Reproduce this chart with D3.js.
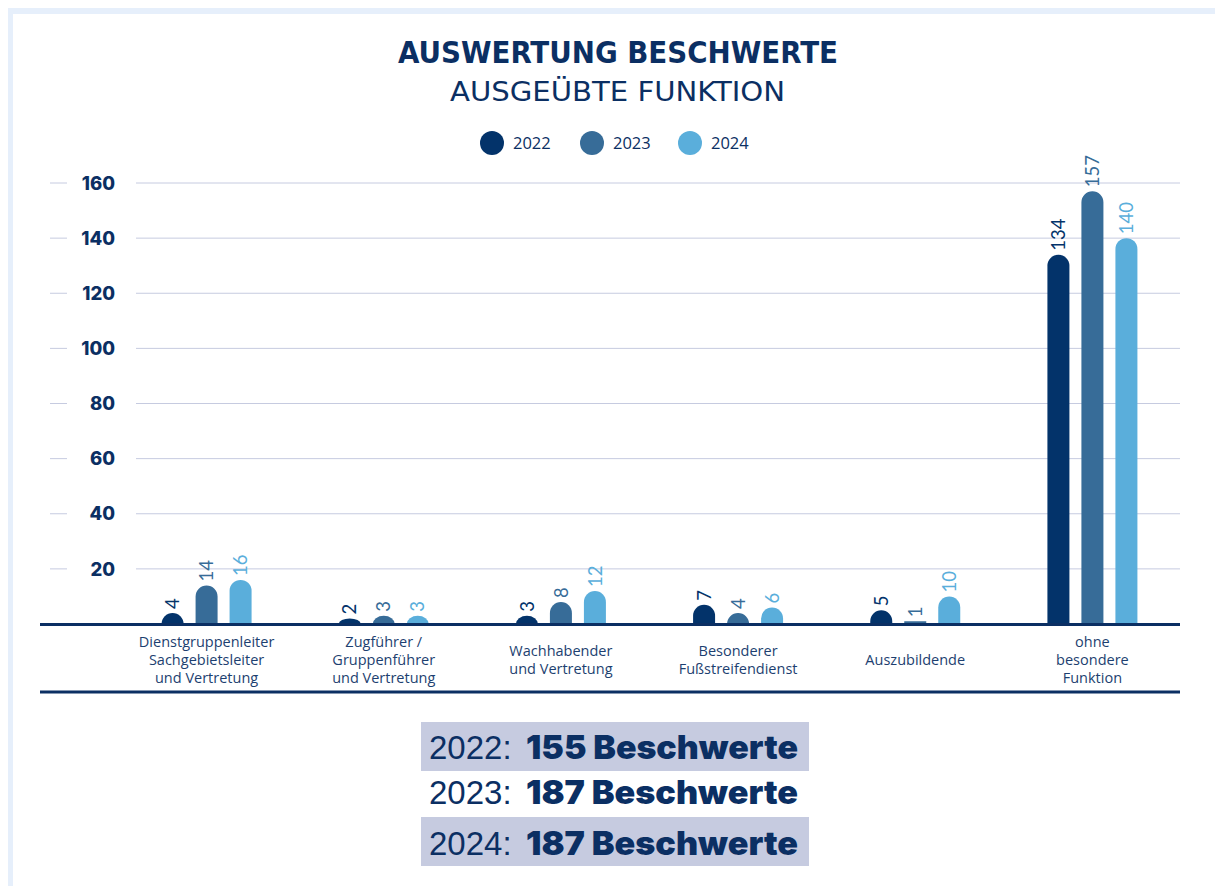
<!DOCTYPE html>
<html><head><meta charset="utf-8">
<script src="https://cdn.jsdelivr.net/npm/d3@7"></script>
<style>
html,body{margin:0;padding:0;background:#fff;}
svg{display:block;}
</style></head>
<body>
<svg id="chart" width="1215" height="886"></svg>
<script>
const categories = [
  ["Dienstgruppenleiter","Sachgebietsleiter","und Vertretung"],
  ["Zugführer /","Gruppenführer","und Vertretung"],
  ["Wachhabender","und Vertretung"],
  ["Besonderer","Fußstreifendienst"],
  ["Auszubildende"],
  ["ohne","besondere","Funktion"]
];
const years = ["2022","2023","2024"];
const values2022 = [4, 2, 3, 7, 5, 134];
const values2023 = [14, 3, 8, 4, 1, 157];
const values2024 = [16, 3, 12, 6, 10, 140];
const yTicks = [20, 40, 60, 80, 100, 120, 140, 160];
const totals = ["155", "187", "187"];
const colors = ["#03336a", "#376c98", "#5aaedb"];
const navy = "#0b2f63";

const series = [values2022, values2023, values2024];
const svg = d3.select("#chart");

// frame
svg.append("rect").attr("x", 8).attr("y", 8).attr("width", 1207).attr("height", 6).attr("fill", "#e6effb");
svg.append("rect").attr("x", 8).attr("y", 8).attr("width", 5).attr("height", 878).attr("fill", "#e6effb");

// titles
svg.append("text").attr("x", 618).attr("y", 63).attr("text-anchor", "middle")
  .attr("font-family", "'Liberation Sans Narrow','DejaVu Sans Condensed','Roboto',sans-serif")
  .attr("font-weight", "bold").attr("font-size", 31).attr("fill", navy)
  .attr("textLength", 440).attr("lengthAdjust", "spacingAndGlyphs")
  .text("AUSWERTUNG BESCHWERTE");
svg.append("text").attr("x", 617.5).attr("y", 101).attr("text-anchor", "middle")
  .attr("font-family", "'Liberation Sans Narrow','DejaVu Sans Condensed','Roboto',sans-serif")
  .attr("font-weight", "normal").attr("font-size", 27).attr("fill", navy)
  .attr("textLength", 335).attr("lengthAdjust", "spacingAndGlyphs")
  .text("AUSGEÜBTE FUNKTION");

// legend
const legendX = [492, 592, 690];
years.forEach((yr, i) => {
  svg.append("circle").attr("cx", legendX[i]).attr("cy", 143).attr("r", 12).attr("fill", colors[i]);
  svg.append("text").attr("x", legendX[i] + 21).attr("y", 143).attr("dy", "0.36em")
    .attr("font-family", "'Open Sans',sans-serif").attr("font-size", 16.5).attr("fill", navy).text(yr);
});

// scales
const x = d3.scaleBand().domain(d3.range(categories.length)).range([118, 1181]).padding(0);
const xs = d3.scaleBand().domain(years).range([-51, 51]).padding(0);
const y = d3.scaleLinear().domain([0, 160]).range([624, 183]);
const barW = 22;

// gridlines + ticks
const g = svg.append("g");
yTicks.forEach(t => {
  g.append("line").attr("x1", 136).attr("x2", 1180).attr("y1", y(t)).attr("y2", y(t))
    .attr("stroke", "#c6cbe0").attr("stroke-width", 1);
  g.append("line").attr("x1", 50).attr("x2", 67).attr("y1", y(t)).attr("y2", y(t))
    .attr("stroke", "#c6cbe0").attr("stroke-width", 1);
  g.append("text").attr("x", 115).attr("y", y(t)).attr("dy", "0.36em").attr("text-anchor", "end")
    .attr("font-family", "Inter,'Open Sans',sans-serif").attr("font-weight", 800).attr("font-size", 18.5)
    .attr("fill", navy).text(t);
});

// bars
function barPath(cx, v) {
  const x0 = cx - barW / 2, x1 = cx + barW / 2;
  const yb = y(0), yt = y(v);
  const h = yb - yt;
  const rx = barW / 2;
  const ry = h < 4 ? 0 : Math.min(rx, h);
  if (ry === 0) return `M${x0},${yb}V${yt}H${x1}V${yb}Z`;
  return `M${x0},${yb}V${yt + ry}A${rx},${ry} 0 0 1 ${cx},${yt}A${rx},${ry} 0 0 1 ${x1},${yt + ry}V${yb}Z`;
}
categories.forEach((c, ci) => {
  const gc = x(ci) + x.bandwidth() / 2;
  years.forEach((yr, si) => {
    const cx = gc + xs(yr) + xs.bandwidth() / 2;
    const v = series[si][ci];
    svg.append("path").attr("d", barPath(cx, v)).attr("fill", colors[si]);
    svg.append("text")
      .attr("transform", `translate(${cx},${y(v) - 4}) rotate(-90)`)
      .attr("dy", "0.36em")
      .attr("font-family", "Lato,'Open Sans',sans-serif").attr("font-weight", 400).attr("font-size", 18.5)
      .attr("fill", colors[si]).text(v);
  });
  const t = svg.append("text").attr("text-anchor", "middle")
    .attr("font-family", "'Open Sans',sans-serif").attr("font-size", 14.5).attr("fill", "#1d3f70");
  const n = c.length;
  c.forEach((line, li) => {
    t.append("tspan").attr("x", gc).attr("y", 660 + (li - (n - 1) / 2) * 18).attr("dy", "0.35em").text(line);
  });
});

// baseline + bottom line
svg.append("line").attr("x1", 40).attr("x2", 1180).attr("y1", y(0) + 0.5).attr("y2", y(0) + 0.5)
  .attr("stroke", navy).attr("stroke-width", 3);
svg.append("line").attr("x1", 40).attr("x2", 1180).attr("y1", 692).attr("y2", 692)
  .attr("stroke", navy).attr("stroke-width", 3);

// totals
const rowBase = [759, 804, 855];
const rowBg = [[722, 49], null, [817, 49]];
years.forEach((yr, i) => {
  if (rowBg[i]) svg.append("rect").attr("x", 421).attr("y", rowBg[i][0]).attr("width", 388).attr("height", rowBg[i][1]).attr("fill", "#c6cbe0");
  const t = svg.append("text").attr("x", 429).attr("y", rowBase[i])
    .attr("font-family", "'Liberation Sans','DejaVu Sans',sans-serif").attr("font-size", 33).attr("fill", navy);
  t.append("tspan").attr("font-weight", 300).text(yr + ": ");
  t.append("tspan").attr("x", 526).attr("font-family", "Inter,'DejaVu Sans',sans-serif").attr("font-weight", 900)
    .attr("textLength", 272).attr("lengthAdjust", "spacingAndGlyphs").text(totals[i] + " Beschwerte");
});
</script>
</body></html>
